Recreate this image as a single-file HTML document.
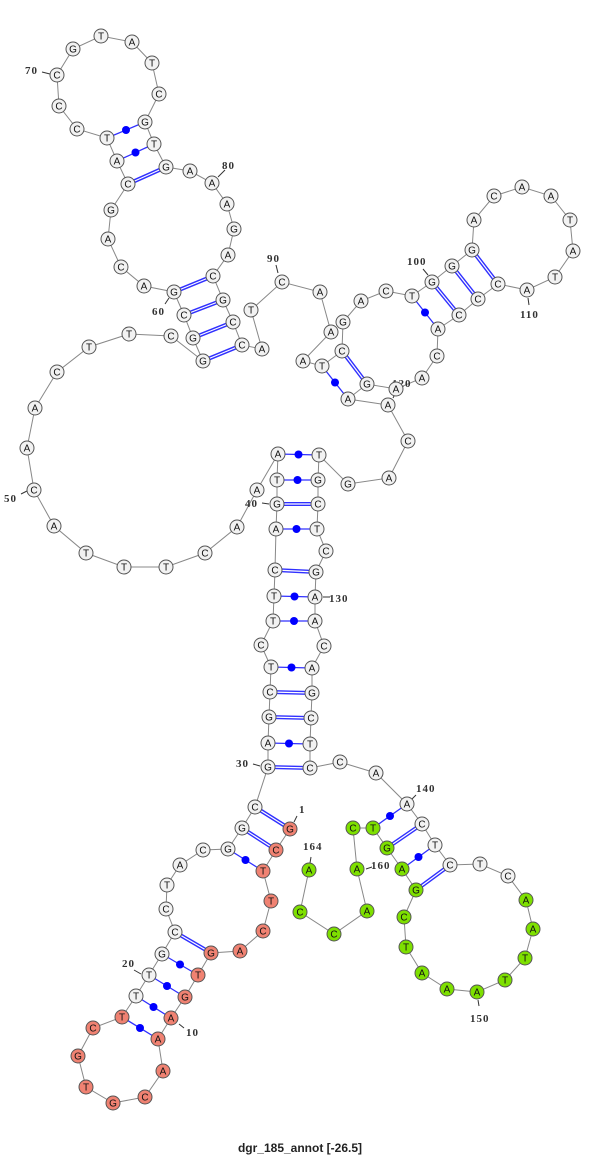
<!DOCTYPE html>
<html><head><meta charset="utf-8"><style>
html,body{margin:0;padding:0;background:#fff;}
svg{display:block;}
.bb{fill:none;stroke:#888;stroke-width:1;}
.d1{stroke:#3030ff;stroke-width:4;}
.d2{stroke:#fff;stroke-width:1.2;}
.s{stroke:#3030ff;stroke-width:1.3;}
.dot{fill:#0000ff;}
circle.n{fill:#f2f2f2;stroke:#555;stroke-width:1;}
circle.r{fill:#f08272;stroke:#555;stroke-width:1;}
circle.g{fill:#7ee000;stroke:#555;stroke-width:1;}
text.t{font-family:"Liberation Sans",sans-serif;font-size:10px;text-anchor:middle;fill:#111;}
text.l{font-family:"Liberation Serif",serif;font-size:11px;font-weight:bold;fill:#333;letter-spacing:1px;}
.tk{stroke:#333;stroke-width:1;}
</style></head><body>
<svg width="600" height="1157" viewBox="0 0 600 1157" xmlns="http://www.w3.org/2000/svg">
<polyline class="bb" points="290,829 276,850 263,871 271,901 263,931 240,951 211,953 198,975 185,997 171,1018 158,1039 163,1071 145,1097 113,1103 86,1087 78,1056 93,1028 122,1017 136,996 149,975 162,954 175,932 166,909 167,885 180,865 203,850 228,849 242,828 255,807 268,767 268,743 269,717 270,692 271,667 261,645 273,621 274,596 275,570 276,529 277,504 277,480 278,454 257,490 237,527 205,553 166,567 124,567 86,553 54,526 34,490 27,448 35,408 57,372 89,347 129,334 171,336 203,361 193,338 184,315 174,292 144,286 121,267 108,239 111,210 128,184 117,161 107,138 77,129 59,106 57,75 73,49 101,36 132,42 152,63 159,94 145,122 154,144 166,167 190,171 212,183 227,204 234,229 228,255 213,276 223,300 233,322 242,345 262,349 251,310 282,282 320,292 331,332 303,361 322,366 342,351 343,322 361,301 386,291 412,296 432,282 452,266 472,250 474,220 494,196 522,187 551,196 570,220 573,251 555,277 527,290 498,284 478,299 459,315 438,329 437,356 422,378 396,389 367,384 348,399 388,405 408,441 389,478 348,484 319,455 318,480 318,504 317,529 326,551 316,572 315,597 315,621 324,646 312,668 312,693 311,718 310,744 310,768 340,762 376,773 407,804 422,824 435,845 450,865 480,864 508,876 526,900 533,929 525,958 505,980 477,992 447,989 422,973 406,947 404,917 416,890 402,869 387,848 373,828 353,828 357,869 367,911 334,934 300,912 309,870"/>
<g>
<line class="d1" x1="290" y1="829" x2="255" y2="807"/><line class="d2" x1="290" y1="829" x2="255" y2="807"/>
<line class="d1" x1="276" y1="850" x2="242" y2="828"/><line class="d2" x1="276" y1="850" x2="242" y2="828"/>
<line class="d1" x1="211" y1="953" x2="175" y2="932"/><line class="d2" x1="211" y1="953" x2="175" y2="932"/>
<line class="d1" x1="268" y1="767" x2="310" y2="768"/><line class="d2" x1="268" y1="767" x2="310" y2="768"/>
<line class="d1" x1="269" y1="717" x2="311" y2="718"/><line class="d2" x1="269" y1="717" x2="311" y2="718"/>
<line class="d1" x1="270" y1="692" x2="312" y2="693"/><line class="d2" x1="270" y1="692" x2="312" y2="693"/>
<line class="d1" x1="275" y1="570" x2="316" y2="572"/><line class="d2" x1="275" y1="570" x2="316" y2="572"/>
<line class="d1" x1="277" y1="504" x2="318" y2="504"/><line class="d2" x1="277" y1="504" x2="318" y2="504"/>
<line class="d1" x1="203" y1="361" x2="242" y2="345"/><line class="d2" x1="203" y1="361" x2="242" y2="345"/>
<line class="d1" x1="193" y1="338" x2="233" y2="322"/><line class="d2" x1="193" y1="338" x2="233" y2="322"/>
<line class="d1" x1="184" y1="315" x2="223" y2="300"/><line class="d2" x1="184" y1="315" x2="223" y2="300"/>
<line class="d1" x1="174" y1="292" x2="213" y2="276"/><line class="d2" x1="174" y1="292" x2="213" y2="276"/>
<line class="d1" x1="128" y1="184" x2="166" y2="167"/><line class="d2" x1="128" y1="184" x2="166" y2="167"/>
<line class="d1" x1="342" y1="351" x2="367" y2="384"/><line class="d2" x1="342" y1="351" x2="367" y2="384"/>
<line class="d1" x1="432" y1="282" x2="459" y2="315"/><line class="d2" x1="432" y1="282" x2="459" y2="315"/>
<line class="d1" x1="452" y1="266" x2="478" y2="299"/><line class="d2" x1="452" y1="266" x2="478" y2="299"/>
<line class="d1" x1="472" y1="250" x2="498" y2="284"/><line class="d2" x1="472" y1="250" x2="498" y2="284"/>
<line class="d1" x1="422" y1="824" x2="387" y2="848"/><line class="d2" x1="422" y1="824" x2="387" y2="848"/>
<line class="d1" x1="450" y1="865" x2="416" y2="890"/><line class="d2" x1="450" y1="865" x2="416" y2="890"/>
</g>
<g>
<line class="s" x1="263" y1="871" x2="228" y2="849"/><circle class="dot" cx="245.5" cy="860" r="4"/>
<line class="s" x1="198" y1="975" x2="162" y2="954"/><circle class="dot" cx="180" cy="964.5" r="4"/>
<line class="s" x1="185" y1="997" x2="149" y2="975"/><circle class="dot" cx="167" cy="986" r="4"/>
<line class="s" x1="171" y1="1018" x2="136" y2="996"/><circle class="dot" cx="153.5" cy="1007" r="4"/>
<line class="s" x1="158" y1="1039" x2="122" y2="1017"/><circle class="dot" cx="140" cy="1028" r="4"/>
<line class="s" x1="268" y1="743" x2="310" y2="744"/><circle class="dot" cx="289" cy="743.5" r="4"/>
<line class="s" x1="271" y1="667" x2="312" y2="668"/><circle class="dot" cx="291.5" cy="667.5" r="4"/>
<line class="s" x1="273" y1="621" x2="315" y2="621"/><circle class="dot" cx="294" cy="621" r="4"/>
<line class="s" x1="274" y1="596" x2="315" y2="597"/><circle class="dot" cx="294.5" cy="596.5" r="4"/>
<line class="s" x1="276" y1="529" x2="317" y2="529"/><circle class="dot" cx="296.5" cy="529" r="4"/>
<line class="s" x1="277" y1="480" x2="318" y2="480"/><circle class="dot" cx="297.5" cy="480" r="4"/>
<line class="s" x1="278" y1="454" x2="319" y2="455"/><circle class="dot" cx="298.5" cy="454.5" r="4"/>
<line class="s" x1="117" y1="161" x2="154" y2="144"/><circle class="dot" cx="135.5" cy="152.5" r="4"/>
<line class="s" x1="107" y1="138" x2="145" y2="122"/><circle class="dot" cx="126" cy="130" r="4"/>
<line class="s" x1="322" y1="366" x2="348" y2="399"/><circle class="dot" cx="335" cy="382.5" r="4"/>
<line class="s" x1="412" y1="296" x2="438" y2="329"/><circle class="dot" cx="425" cy="312.5" r="4"/>
<line class="s" x1="407" y1="804" x2="373" y2="828"/><circle class="dot" cx="390" cy="816" r="4"/>
<line class="s" x1="435" y1="845" x2="402" y2="869"/><circle class="dot" cx="418.5" cy="857" r="4"/>
</g>
<g>
<line class="tk" x1="42" y1="72" x2="50" y2="74"/><text class="l" x="25" y="74">70</text>
<line class="tk" x1="225" y1="170" x2="218" y2="177"/><text class="l" x="222" y="169">80</text>
<line class="tk" x1="276" y1="265" x2="278" y2="273"/><text class="l" x="267" y="262">90</text>
<line class="tk" x1="423" y1="269" x2="428" y2="275"/><text class="l" x="407" y="265">100</text>
<line class="tk" x1="528" y1="298" x2="529" y2="305"/><text class="l" x="520" y="318">110</text>
<line class="tk" x1="396" y1="392" x2="393" y2="398"/><text class="l" x="392" y="387">120</text>
<line class="tk" x1="165" y1="304" x2="169" y2="298"/><text class="l" x="152" y="315">60</text>
<line class="tk" x1="21" y1="494" x2="27" y2="491"/><text class="l" x="4" y="502">50</text>
<line class="tk" x1="262" y1="503" x2="269" y2="504"/><text class="l" x="245" y="507">40</text>
<line class="tk" x1="323" y1="597" x2="330" y2="597"/><text class="l" x="329" y="602">130</text>
<line class="tk" x1="253" y1="764" x2="260" y2="766"/><text class="l" x="236" y="767">30</text>
<line class="tk" x1="297" y1="816" x2="294" y2="822"/><text class="l" x="299" y="813">1</text>
<line class="tk" x1="311" y1="857" x2="310" y2="863"/><text class="l" x="303" y="850">164</text>
<line class="tk" x1="366" y1="869" x2="372" y2="867"/><text class="l" x="371" y="869">160</text>
<line class="tk" x1="416" y1="795" x2="412" y2="799"/><text class="l" x="416" y="792">140</text>
<line class="tk" x1="478" y1="1000" x2="479" y2="1006"/><text class="l" x="470" y="1022">150</text>
<line class="tk" x1="134" y1="970" x2="141" y2="974"/><text class="l" x="122" y="967">20</text>
<line class="tk" x1="179" y1="1024" x2="184" y2="1028"/><text class="l" x="186" y="1036">10</text>
</g>
<g>
<circle class="r" cx="290" cy="829" r="7"/><text class="t" x="290" y="832.5">G</text>
<circle class="r" cx="276" cy="850" r="7"/><text class="t" x="276" y="853.5">C</text>
<circle class="r" cx="263" cy="871" r="7"/><text class="t" x="263" y="874.5">T</text>
<circle class="r" cx="271" cy="901" r="7"/><text class="t" x="271" y="904.5">T</text>
<circle class="r" cx="263" cy="931" r="7"/><text class="t" x="263" y="934.5">C</text>
<circle class="r" cx="240" cy="951" r="7"/><text class="t" x="240" y="954.5">A</text>
<circle class="r" cx="211" cy="953" r="7"/><text class="t" x="211" y="956.5">G</text>
<circle class="r" cx="198" cy="975" r="7"/><text class="t" x="198" y="978.5">T</text>
<circle class="r" cx="185" cy="997" r="7"/><text class="t" x="185" y="1000.5">G</text>
<circle class="r" cx="171" cy="1018" r="7"/><text class="t" x="171" y="1021.5">A</text>
<circle class="r" cx="158" cy="1039" r="7"/><text class="t" x="158" y="1042.5">A</text>
<circle class="r" cx="163" cy="1071" r="7"/><text class="t" x="163" y="1074.5">A</text>
<circle class="r" cx="145" cy="1097" r="7"/><text class="t" x="145" y="1100.5">C</text>
<circle class="r" cx="113" cy="1103" r="7"/><text class="t" x="113" y="1106.5">G</text>
<circle class="r" cx="86" cy="1087" r="7"/><text class="t" x="86" y="1090.5">T</text>
<circle class="r" cx="78" cy="1056" r="7"/><text class="t" x="78" y="1059.5">G</text>
<circle class="r" cx="93" cy="1028" r="7"/><text class="t" x="93" y="1031.5">C</text>
<circle class="r" cx="122" cy="1017" r="7"/><text class="t" x="122" y="1020.5">T</text>
<circle class="n" cx="136" cy="996" r="7"/><text class="t" x="136" y="999.5">T</text>
<circle class="n" cx="149" cy="975" r="7"/><text class="t" x="149" y="978.5">T</text>
<circle class="n" cx="162" cy="954" r="7"/><text class="t" x="162" y="957.5">G</text>
<circle class="n" cx="175" cy="932" r="7"/><text class="t" x="175" y="935.5">C</text>
<circle class="n" cx="166" cy="909" r="7"/><text class="t" x="166" y="912.5">C</text>
<circle class="n" cx="167" cy="885" r="7"/><text class="t" x="167" y="888.5">T</text>
<circle class="n" cx="180" cy="865" r="7"/><text class="t" x="180" y="868.5">A</text>
<circle class="n" cx="203" cy="850" r="7"/><text class="t" x="203" y="853.5">C</text>
<circle class="n" cx="228" cy="849" r="7"/><text class="t" x="228" y="852.5">G</text>
<circle class="n" cx="242" cy="828" r="7"/><text class="t" x="242" y="831.5">G</text>
<circle class="n" cx="255" cy="807" r="7"/><text class="t" x="255" y="810.5">C</text>
<circle class="n" cx="268" cy="767" r="7"/><text class="t" x="268" y="770.5">G</text>
<circle class="n" cx="268" cy="743" r="7"/><text class="t" x="268" y="746.5">A</text>
<circle class="n" cx="269" cy="717" r="7"/><text class="t" x="269" y="720.5">G</text>
<circle class="n" cx="270" cy="692" r="7"/><text class="t" x="270" y="695.5">C</text>
<circle class="n" cx="271" cy="667" r="7"/><text class="t" x="271" y="670.5">T</text>
<circle class="n" cx="261" cy="645" r="7"/><text class="t" x="261" y="648.5">C</text>
<circle class="n" cx="273" cy="621" r="7"/><text class="t" x="273" y="624.5">T</text>
<circle class="n" cx="274" cy="596" r="7"/><text class="t" x="274" y="599.5">T</text>
<circle class="n" cx="275" cy="570" r="7"/><text class="t" x="275" y="573.5">C</text>
<circle class="n" cx="276" cy="529" r="7"/><text class="t" x="276" y="532.5">A</text>
<circle class="n" cx="277" cy="504" r="7"/><text class="t" x="277" y="507.5">G</text>
<circle class="n" cx="277" cy="480" r="7"/><text class="t" x="277" y="483.5">T</text>
<circle class="n" cx="278" cy="454" r="7"/><text class="t" x="278" y="457.5">A</text>
<circle class="n" cx="257" cy="490" r="7"/><text class="t" x="257" y="493.5">A</text>
<circle class="n" cx="237" cy="527" r="7"/><text class="t" x="237" y="530.5">A</text>
<circle class="n" cx="205" cy="553" r="7"/><text class="t" x="205" y="556.5">C</text>
<circle class="n" cx="166" cy="567" r="7"/><text class="t" x="166" y="570.5">T</text>
<circle class="n" cx="124" cy="567" r="7"/><text class="t" x="124" y="570.5">T</text>
<circle class="n" cx="86" cy="553" r="7"/><text class="t" x="86" y="556.5">T</text>
<circle class="n" cx="54" cy="526" r="7"/><text class="t" x="54" y="529.5">A</text>
<circle class="n" cx="34" cy="490" r="7"/><text class="t" x="34" y="493.5">C</text>
<circle class="n" cx="27" cy="448" r="7"/><text class="t" x="27" y="451.5">A</text>
<circle class="n" cx="35" cy="408" r="7"/><text class="t" x="35" y="411.5">A</text>
<circle class="n" cx="57" cy="372" r="7"/><text class="t" x="57" y="375.5">C</text>
<circle class="n" cx="89" cy="347" r="7"/><text class="t" x="89" y="350.5">T</text>
<circle class="n" cx="129" cy="334" r="7"/><text class="t" x="129" y="337.5">T</text>
<circle class="n" cx="171" cy="336" r="7"/><text class="t" x="171" y="339.5">C</text>
<circle class="n" cx="203" cy="361" r="7"/><text class="t" x="203" y="364.5">G</text>
<circle class="n" cx="193" cy="338" r="7"/><text class="t" x="193" y="341.5">G</text>
<circle class="n" cx="184" cy="315" r="7"/><text class="t" x="184" y="318.5">C</text>
<circle class="n" cx="174" cy="292" r="7"/><text class="t" x="174" y="295.5">G</text>
<circle class="n" cx="144" cy="286" r="7"/><text class="t" x="144" y="289.5">A</text>
<circle class="n" cx="121" cy="267" r="7"/><text class="t" x="121" y="270.5">C</text>
<circle class="n" cx="108" cy="239" r="7"/><text class="t" x="108" y="242.5">A</text>
<circle class="n" cx="111" cy="210" r="7"/><text class="t" x="111" y="213.5">G</text>
<circle class="n" cx="128" cy="184" r="7"/><text class="t" x="128" y="187.5">C</text>
<circle class="n" cx="117" cy="161" r="7"/><text class="t" x="117" y="164.5">A</text>
<circle class="n" cx="107" cy="138" r="7"/><text class="t" x="107" y="141.5">T</text>
<circle class="n" cx="77" cy="129" r="7"/><text class="t" x="77" y="132.5">C</text>
<circle class="n" cx="59" cy="106" r="7"/><text class="t" x="59" y="109.5">C</text>
<circle class="n" cx="57" cy="75" r="7"/><text class="t" x="57" y="78.5">C</text>
<circle class="n" cx="73" cy="49" r="7"/><text class="t" x="73" y="52.5">G</text>
<circle class="n" cx="101" cy="36" r="7"/><text class="t" x="101" y="39.5">T</text>
<circle class="n" cx="132" cy="42" r="7"/><text class="t" x="132" y="45.5">A</text>
<circle class="n" cx="152" cy="63" r="7"/><text class="t" x="152" y="66.5">T</text>
<circle class="n" cx="159" cy="94" r="7"/><text class="t" x="159" y="97.5">C</text>
<circle class="n" cx="145" cy="122" r="7"/><text class="t" x="145" y="125.5">G</text>
<circle class="n" cx="154" cy="144" r="7"/><text class="t" x="154" y="147.5">T</text>
<circle class="n" cx="166" cy="167" r="7"/><text class="t" x="166" y="170.5">G</text>
<circle class="n" cx="190" cy="171" r="7"/><text class="t" x="190" y="174.5">A</text>
<circle class="n" cx="212" cy="183" r="7"/><text class="t" x="212" y="186.5">A</text>
<circle class="n" cx="227" cy="204" r="7"/><text class="t" x="227" y="207.5">A</text>
<circle class="n" cx="234" cy="229" r="7"/><text class="t" x="234" y="232.5">G</text>
<circle class="n" cx="228" cy="255" r="7"/><text class="t" x="228" y="258.5">A</text>
<circle class="n" cx="213" cy="276" r="7"/><text class="t" x="213" y="279.5">C</text>
<circle class="n" cx="223" cy="300" r="7"/><text class="t" x="223" y="303.5">G</text>
<circle class="n" cx="233" cy="322" r="7"/><text class="t" x="233" y="325.5">C</text>
<circle class="n" cx="242" cy="345" r="7"/><text class="t" x="242" y="348.5">C</text>
<circle class="n" cx="262" cy="349" r="7"/><text class="t" x="262" y="352.5">A</text>
<circle class="n" cx="251" cy="310" r="7"/><text class="t" x="251" y="313.5">T</text>
<circle class="n" cx="282" cy="282" r="7"/><text class="t" x="282" y="285.5">C</text>
<circle class="n" cx="320" cy="292" r="7"/><text class="t" x="320" y="295.5">A</text>
<circle class="n" cx="331" cy="332" r="7"/><text class="t" x="331" y="335.5">A</text>
<circle class="n" cx="303" cy="361" r="7"/><text class="t" x="303" y="364.5">A</text>
<circle class="n" cx="322" cy="366" r="7"/><text class="t" x="322" y="369.5">T</text>
<circle class="n" cx="342" cy="351" r="7"/><text class="t" x="342" y="354.5">C</text>
<circle class="n" cx="343" cy="322" r="7"/><text class="t" x="343" y="325.5">G</text>
<circle class="n" cx="361" cy="301" r="7"/><text class="t" x="361" y="304.5">A</text>
<circle class="n" cx="386" cy="291" r="7"/><text class="t" x="386" y="294.5">C</text>
<circle class="n" cx="412" cy="296" r="7"/><text class="t" x="412" y="299.5">T</text>
<circle class="n" cx="432" cy="282" r="7"/><text class="t" x="432" y="285.5">G</text>
<circle class="n" cx="452" cy="266" r="7"/><text class="t" x="452" y="269.5">G</text>
<circle class="n" cx="472" cy="250" r="7"/><text class="t" x="472" y="253.5">G</text>
<circle class="n" cx="474" cy="220" r="7"/><text class="t" x="474" y="223.5">A</text>
<circle class="n" cx="494" cy="196" r="7"/><text class="t" x="494" y="199.5">C</text>
<circle class="n" cx="522" cy="187" r="7"/><text class="t" x="522" y="190.5">A</text>
<circle class="n" cx="551" cy="196" r="7"/><text class="t" x="551" y="199.5">A</text>
<circle class="n" cx="570" cy="220" r="7"/><text class="t" x="570" y="223.5">T</text>
<circle class="n" cx="573" cy="251" r="7"/><text class="t" x="573" y="254.5">A</text>
<circle class="n" cx="555" cy="277" r="7"/><text class="t" x="555" y="280.5">T</text>
<circle class="n" cx="527" cy="290" r="7"/><text class="t" x="527" y="293.5">A</text>
<circle class="n" cx="498" cy="284" r="7"/><text class="t" x="498" y="287.5">C</text>
<circle class="n" cx="478" cy="299" r="7"/><text class="t" x="478" y="302.5">C</text>
<circle class="n" cx="459" cy="315" r="7"/><text class="t" x="459" y="318.5">C</text>
<circle class="n" cx="438" cy="329" r="7"/><text class="t" x="438" y="332.5">A</text>
<circle class="n" cx="437" cy="356" r="7"/><text class="t" x="437" y="359.5">C</text>
<circle class="n" cx="422" cy="378" r="7"/><text class="t" x="422" y="381.5">A</text>
<circle class="n" cx="396" cy="389" r="7"/><text class="t" x="396" y="392.5">A</text>
<circle class="n" cx="367" cy="384" r="7"/><text class="t" x="367" y="387.5">G</text>
<circle class="n" cx="348" cy="399" r="7"/><text class="t" x="348" y="402.5">A</text>
<circle class="n" cx="388" cy="405" r="7"/><text class="t" x="388" y="408.5">A</text>
<circle class="n" cx="408" cy="441" r="7"/><text class="t" x="408" y="444.5">C</text>
<circle class="n" cx="389" cy="478" r="7"/><text class="t" x="389" y="481.5">A</text>
<circle class="n" cx="348" cy="484" r="7"/><text class="t" x="348" y="487.5">G</text>
<circle class="n" cx="319" cy="455" r="7"/><text class="t" x="319" y="458.5">T</text>
<circle class="n" cx="318" cy="480" r="7"/><text class="t" x="318" y="483.5">G</text>
<circle class="n" cx="318" cy="504" r="7"/><text class="t" x="318" y="507.5">C</text>
<circle class="n" cx="317" cy="529" r="7"/><text class="t" x="317" y="532.5">T</text>
<circle class="n" cx="326" cy="551" r="7"/><text class="t" x="326" y="554.5">C</text>
<circle class="n" cx="316" cy="572" r="7"/><text class="t" x="316" y="575.5">G</text>
<circle class="n" cx="315" cy="597" r="7"/><text class="t" x="315" y="600.5">A</text>
<circle class="n" cx="315" cy="621" r="7"/><text class="t" x="315" y="624.5">A</text>
<circle class="n" cx="324" cy="646" r="7"/><text class="t" x="324" y="649.5">C</text>
<circle class="n" cx="312" cy="668" r="7"/><text class="t" x="312" y="671.5">A</text>
<circle class="n" cx="312" cy="693" r="7"/><text class="t" x="312" y="696.5">G</text>
<circle class="n" cx="311" cy="718" r="7"/><text class="t" x="311" y="721.5">C</text>
<circle class="n" cx="310" cy="744" r="7"/><text class="t" x="310" y="747.5">T</text>
<circle class="n" cx="310" cy="768" r="7"/><text class="t" x="310" y="771.5">C</text>
<circle class="n" cx="340" cy="762" r="7"/><text class="t" x="340" y="765.5">C</text>
<circle class="n" cx="376" cy="773" r="7"/><text class="t" x="376" y="776.5">A</text>
<circle class="n" cx="407" cy="804" r="7"/><text class="t" x="407" y="807.5">A</text>
<circle class="n" cx="422" cy="824" r="7"/><text class="t" x="422" y="827.5">C</text>
<circle class="n" cx="435" cy="845" r="7"/><text class="t" x="435" y="848.5">T</text>
<circle class="n" cx="450" cy="865" r="7"/><text class="t" x="450" y="868.5">C</text>
<circle class="n" cx="480" cy="864" r="7"/><text class="t" x="480" y="867.5">T</text>
<circle class="n" cx="508" cy="876" r="7"/><text class="t" x="508" y="879.5">C</text>
<circle class="g" cx="526" cy="900" r="7"/><text class="t" x="526" y="903.5">A</text>
<circle class="g" cx="533" cy="929" r="7"/><text class="t" x="533" y="932.5">A</text>
<circle class="g" cx="525" cy="958" r="7"/><text class="t" x="525" y="961.5">T</text>
<circle class="g" cx="505" cy="980" r="7"/><text class="t" x="505" y="983.5">T</text>
<circle class="g" cx="477" cy="992" r="7"/><text class="t" x="477" y="995.5">A</text>
<circle class="g" cx="447" cy="989" r="7"/><text class="t" x="447" y="992.5">A</text>
<circle class="g" cx="422" cy="973" r="7"/><text class="t" x="422" y="976.5">A</text>
<circle class="g" cx="406" cy="947" r="7"/><text class="t" x="406" y="950.5">T</text>
<circle class="g" cx="404" cy="917" r="7"/><text class="t" x="404" y="920.5">C</text>
<circle class="g" cx="416" cy="890" r="7"/><text class="t" x="416" y="893.5">G</text>
<circle class="g" cx="402" cy="869" r="7"/><text class="t" x="402" y="872.5">A</text>
<circle class="g" cx="387" cy="848" r="7"/><text class="t" x="387" y="851.5">G</text>
<circle class="g" cx="373" cy="828" r="7"/><text class="t" x="373" y="831.5">T</text>
<circle class="g" cx="353" cy="828" r="7"/><text class="t" x="353" y="831.5">C</text>
<circle class="g" cx="357" cy="869" r="7"/><text class="t" x="357" y="872.5">A</text>
<circle class="g" cx="367" cy="911" r="7"/><text class="t" x="367" y="914.5">A</text>
<circle class="g" cx="334" cy="934" r="7"/><text class="t" x="334" y="937.5">C</text>
<circle class="g" cx="300" cy="912" r="7"/><text class="t" x="300" y="915.5">C</text>
<circle class="g" cx="309" cy="870" r="7"/><text class="t" x="309" y="873.5">A</text>
</g>
<text x="300" y="1152" style="font-family:'Liberation Sans',sans-serif;font-size:12px;font-weight:bold;text-anchor:middle;fill:#222;">dgr_185_annot [-26.5]</text>
</svg>
</body></html>
